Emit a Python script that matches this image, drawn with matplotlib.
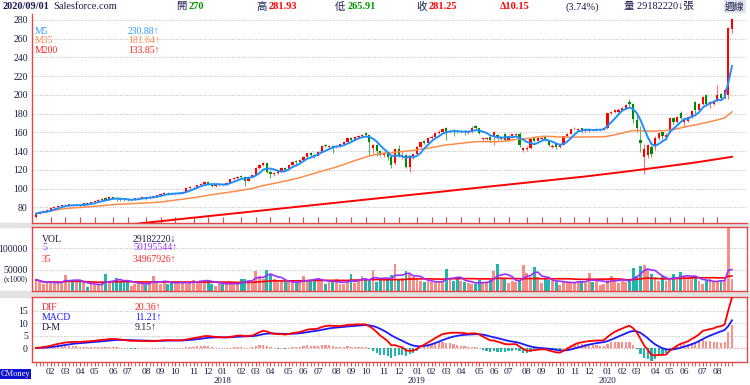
import matplotlib
matplotlib.use("Agg")
import matplotlib.pyplot as plt
from matplotlib.patches import Rectangle
import numpy as np
import pandas as pd

plt.rcParams['font.family'] = ['Liberation Serif', 'Noto Sans CJK TC', 'DejaVu Sans']

# weekly candles, Salesforce.com, week of 2017-01-09 .. week of 2020-08-31
weeks = pd.date_range('2017-01-09', periods=191, freq='W-MON')

opens = [
    69.9, 73.2, 75.3, 76.0, 77.0, 79.6, 80.6, 81.5, 82.0, 82.5,
    82.7, 82.0, 82.5, 81.4, 84.5, 84.0, 85.5, 86.2, 87.8, 89.8,
    88.0, 90.7, 90.2, 88.8, 87.8, 88.3, 87.8, 88.5, 89.6, 90.2,
    90.7, 90.0, 91.0, 91.7, 93.0, 94.5, 95.6, 94.8, 94.0, 94.6,
    95.5, 96.5, 100.2, 101.5, 102.0, 103.5, 104.8, 107.3, 105.0, 102.7,
    103.5, 104.8, 104.5, 106.0, 109.9, 110.9, 113.2, 112.0, 108.4, 112.7,
    114.5, 121.6, 125.1, 126.9, 118.0, 115.0, 116.5, 119.0, 121.6, 120.0,
    125.4, 129.5, 128.0, 130.4, 134.0, 137.6, 135.9, 135.0, 139.3, 146.5,
    144.2, 145.2, 144.0, 144.5, 147.0, 150.0, 154.0, 152.0, 155.3, 155.8,
    158.8, 157.2, 143.0, 146.0, 140.5, 136.0, 138.0, 134.0, 127.0, 142.5,
    134.0, 136.2, 122.5, 134.5, 137.0, 144.0, 151.0, 149.0, 153.6, 155.5,
    159.6, 160.6, 164.6, 160.0, 161.0, 160.8, 160.0, 161.2, 159.2, 160.0,
    167.0, 164.5, 152.5, 152.8, 155.0, 155.0, 157.0, 153.0, 158.0, 152.0,
    155.8, 157.2, 158.5, 141.0, 142.0, 143.5, 153.5, 151.0, 153.0, 154.5,
    151.5, 144.5, 147.0, 144.0, 146.5, 155.8, 158.3, 163.0, 162.0, 164.5,
    161.0, 161.8, 162.6, 162.4, 162.0, 162.6, 164.3, 180.2, 182.0, 181.5,
    184.0, 185.6, 192.0, 190.5, 173.0, 152.0, 134.0, 136.0, 144.0, 145.4,
    154.0, 160.0, 155.0, 160.6, 175.0, 171.5, 181.0, 171.5, 172.0, 176.0,
    192.6, 183.8, 190.2, 199.7, 190.0, 190.5, 193.0, 200.5, 196.5, 200.0,
    270.0,
]
closes = [
    73.2, 75.3, 76.0, 77.0, 79.6, 80.6, 81.5, 82.0, 82.5, 82.7,
    82.0, 82.5, 81.4, 84.5, 84.0, 85.5, 86.2, 87.8, 88.8, 88.0,
    90.7, 90.2, 88.8, 87.8, 87.5, 87.8, 88.5, 89.6, 90.2, 90.7,
    90.0, 91.0, 91.7, 93.0, 94.5, 95.6, 94.8, 94.0, 94.6, 95.5,
    96.5, 100.2, 101.5, 102.0, 103.5, 104.8, 107.3, 105.0, 102.7, 103.5,
    104.8, 104.5, 106.0, 109.9, 110.9, 112.7, 112.0, 108.4, 112.7, 114.5,
    121.6, 125.1, 126.9, 118.0, 115.0, 116.5, 119.0, 121.6, 120.0, 125.4,
    128.6, 128.0, 130.4, 134.0, 137.6, 135.9, 135.0, 139.3, 145.4, 145.5,
    145.2, 144.0, 144.5, 147.0, 150.0, 154.0, 152.0, 155.3, 155.8, 156.7,
    157.2, 150.0, 146.0, 140.5, 136.0, 138.0, 134.0, 125.0, 142.5, 135.5,
    136.2, 123.5, 134.5, 137.0, 144.0, 150.0, 149.0, 153.6, 155.5, 159.6,
    160.6, 164.0, 160.0, 161.0, 160.8, 160.6, 161.2, 160.5, 160.0, 165.0,
    164.5, 159.6, 154.0, 153.8, 151.5, 160.0, 153.6, 154.0, 152.0, 155.8,
    157.7, 158.2, 146.0, 143.0, 143.5, 152.5, 151.0, 153.6, 153.3, 151.5,
    146.0, 145.5, 144.0, 146.5, 155.8, 158.3, 163.0, 164.0, 163.5, 161.0,
    163.0, 162.6, 162.4, 163.5, 162.6, 164.3, 180.2, 182.0, 183.8, 184.0,
    185.6, 189.0, 190.5, 174.0, 164.5, 148.5, 142.0, 146.0, 137.0, 154.0,
    159.0, 156.0, 157.5, 175.0, 171.5, 176.0, 175.0, 173.5, 176.0, 183.0,
    183.8, 190.2, 198.0, 190.0, 192.0, 193.0, 199.8, 196.5, 205.5, 271.1,
    281.25,
]
highs = [
    73.8, 75.8, 76.6, 77.8, 80.1, 81.2, 82.0, 82.8, 83.2, 83.5,
    83.2, 83.0, 83.0, 85.0, 85.2, 86.0, 86.8, 88.4, 89.5, 91.0,
    91.4, 91.5, 91.0, 89.4, 88.6, 88.8, 89.2, 90.2, 91.0, 91.6,
    91.2, 91.6, 92.4, 93.6, 95.0, 96.2, 96.4, 95.3, 95.4, 96.2,
    97.2, 100.8, 102.3, 103.0, 104.2, 105.5, 108.0, 108.2, 105.6, 104.4,
    105.4, 105.6, 106.8, 110.5, 111.8, 113.5, 114.0, 113.0, 113.5, 115.3,
    122.5, 126.0, 128.0, 127.5, 119.5, 117.5, 120.0, 122.5, 122.8, 126.2,
    129.5, 130.4, 131.2, 134.8, 138.4, 138.6, 137.2, 140.0, 146.2, 147.5,
    146.2, 146.0, 145.4, 148.0, 151.0, 155.0, 155.2, 156.2, 156.8, 158.0,
    160.0, 157.8, 147.0, 147.0, 141.5, 140.0, 139.5, 135.0, 143.5, 146.5,
    140.0, 137.0, 135.5, 138.0, 145.0, 151.0, 152.0, 154.5, 156.6, 160.5,
    162.0, 165.0, 165.5, 162.5, 164.0, 162.0, 162.0, 162.0, 161.0, 166.5,
    168.0, 165.0, 155.5, 155.0, 156.0, 161.0, 158.0, 155.0, 159.0, 156.6,
    158.6, 159.5, 160.5, 144.0, 145.0, 154.0, 155.0, 154.5, 155.0, 155.5,
    152.0, 147.0, 147.5, 147.5, 156.5, 159.0, 164.0, 165.5, 164.5, 165.0,
    164.0, 164.0, 164.0, 164.5, 163.8, 165.5, 181.0, 183.0, 185.0, 186.0,
    187.0, 190.0, 195.5, 191.0, 178.0, 167.0, 148.0, 148.0, 146.0, 156.0,
    160.5, 161.5, 159.0, 176.0, 176.5, 177.0, 183.0, 176.0, 177.0, 184.0,
    193.5, 191.0, 199.0, 201.0, 193.0, 194.5, 210.0, 201.5, 207.5, 272.5,
    281.93,
]
lows = [
    69.0, 72.8, 74.8, 75.4, 76.8, 79.0, 80.0, 81.0, 81.3, 81.8,
    81.5, 81.2, 80.6, 81.0, 83.3, 83.6, 84.8, 85.8, 87.2, 87.5,
    87.6, 89.2, 86.2, 86.8, 86.5, 86.8, 87.2, 88.0, 89.0, 89.5,
    87.5, 89.3, 90.4, 91.2, 92.6, 94.0, 93.6, 93.2, 93.5, 94.0,
    95.0, 96.2, 99.6, 100.8, 101.4, 103.0, 104.3, 104.2, 101.5, 102.0,
    103.0, 103.6, 104.0, 105.6, 109.3, 110.3, 111.0, 102.5, 108.0, 112.0,
    114.0, 121.0, 124.3, 116.5, 111.0, 113.0, 115.8, 118.4, 118.5, 119.4,
    124.8, 124.0, 127.4, 129.8, 133.5, 134.8, 133.0, 134.5, 139.0, 144.2,
    143.0, 138.0, 142.8, 144.0, 146.5, 149.4, 150.5, 151.4, 154.0, 154.8,
    155.5, 136.0, 138.0, 135.0, 134.5, 133.5, 130.5, 122.0, 125.5, 133.8,
    132.0, 121.5, 118.0, 131.5, 136.4, 143.4, 147.5, 148.4, 152.8, 155.0,
    158.6, 160.0, 152.0, 158.8, 156.0, 159.0, 159.0, 157.0, 158.0, 159.0,
    163.5, 158.5, 150.5, 151.5, 150.0, 146.0, 152.0, 152.0, 151.0, 151.4,
    155.0, 156.5, 144.5, 139.0, 140.0, 142.5, 149.5, 150.2, 151.5, 150.5,
    145.0, 143.0, 142.5, 143.0, 146.0, 154.8, 157.8, 162.0, 161.0, 159.5,
    160.0, 160.5, 161.0, 161.5, 161.0, 162.0, 163.8, 178.5, 181.0, 180.0,
    182.5, 185.0, 188.5, 170.0, 160.5, 139.0, 116.0, 133.0, 134.0, 141.0,
    152.0, 152.5, 152.0, 159.0, 168.5, 169.5, 174.0, 166.0, 170.5, 175.0,
    178.0, 183.0, 189.5, 188.5, 186.0, 189.0, 192.0, 195.0, 195.5, 196.0,
    265.91,
]
# weekly volume, millions of shares (axis unit is 1000 shares -> 50000 = 50M)
volumes = [
    26, 22, 16, 18, 24, 20, 18, 22, 38, 22,
    25, 20, 22, 20, 10, 16, 15, 16, 18, 40,
    20, 20, 30, 24, 26, 22, 12, 16, 20, 20,
    14, 18, 36, 20, 16, 23, 16, 22, 20, 18,
    20, 16, 22, 26, 20, 26, 26, 24, 16, 12,
    20, 18, 18, 16, 16, 16, 28, 28, 26, 22,
    46, 36, 28, 49, 40, 28, 20, 22, 22, 22,
    20, 18, 22, 34, 26, 26, 26, 30, 24, 16,
    20, 24, 27, 16, 16, 22, 40, 18, 24, 34,
    26, 24, 48, 22, 26, 30, 26, 38, 63, 28,
    30, 46, 40, 32, 28, 24, 20, 24, 22, 20,
    20, 24, 52, 30, 24, 30, 24, 20, 18, 16,
    16, 26, 22, 20, 26, 46, 63, 32, 30, 18,
    24, 22, 24, 61, 41, 32, 55, 32, 18, 28,
    26, 24, 22, 14, 24, 20, 20, 20, 24, 24,
    18, 41, 20, 24, 15, 16, 26, 36, 26, 18,
    24, 22, 28, 53, 36, 59, 61, 49, 40, 32,
    24, 34, 24, 28, 40, 28, 44, 34, 32, 34,
    30, 24, 16, 24, 28, 20, 24, 24, 25, 149,
    29.18,
]
# 200-week average every 10 weeks
m200_weeks = [0, 10, 20, 30, 40, 50, 60, 70, 80, 90, 100, 110, 120, 130, 140, 150, 160, 170, 180, 190]
m200_vals = [51.1, 55.3, 59.4, 63.5, 67.7, 71.8, 75.9, 80.0, 84.1, 88.2,
             92.3, 96.4, 100.6, 104.7, 108.8, 112.9, 117.6, 122.6, 127.8, 133.85]

header = [("2020/09/01", 3, '#1a1a50', 'bold'), ("Salesforce.com", 53, '#1a1a50', 'normal'),
          ("開", 176, '#1a1a50', 'normal'), ("270", 189, '#009900', 'bold'),
          ("高", 256, '#1a1a50', 'normal'), ("281.93", 269, '#ff0000', 'bold'),
          ("低", 335, '#1a1a50', 'normal'), ("265.91", 348, '#009900', 'bold'),
          ("收", 416, '#1a1a50', 'normal'), ("281.25", 429, '#ff0000', 'bold'),
          ("Δ10.15", 500, '#ff0000', 'bold'), ("(3.74%)", 565, '#1a1a50', 'normal'),
          ("量 29182220↓張", 624, '#1a1a50', 'normal')]

closes_s = pd.Series(closes)
m5 = closes_s.rolling(5, min_periods=1).mean()
m35 = closes_s.rolling(35, min_periods=1).mean()
dif = closes_s.ewm(span=12, adjust=False).mean() - closes_s.ewm(span=26, adjust=False).mean()
macd = dif.ewm(span=9, adjust=False).mean()
dm = dif - macd
vol_s = pd.Series(volumes)
v5 = vol_s.rolling(5, min_periods=1).mean()
v35 = vol_s.rolling(35, min_periods=1).mean()

x = np.arange(len(closes))
up = np.array(closes) >= np.array(opens)

W, H = 750, 385
def px(xp, yp):
    return xp / W, 1 - yp / H

def box(top, bottom, left=32, right=747):
    return [left / W, 1 - bottom / H, (right - left) / W, (bottom - top) / H]

fig = plt.figure(figsize=(7.5, 3.85), dpi=100)
fig.patch.set_facecolor('white')
for t, b in [(223, 227.3), (291, 296.7)]:
    fig.add_artist(Rectangle((0, 1 - b / H), 1, (b - t) / H, transform=fig.transFigure,
                             color='#e2e2e2', zorder=0))

ax_p = fig.add_axes(box(14, 223))
ax_v = fig.add_axes(box(227.3, 291))
ax_m = fig.add_axes(box(296.7, 361.7))

red_sp = '#e04848'
txt = '#1a1a40'
xlim = (-1.1, 194.1)
month_idx = [i for i in range(1, len(weeks)) if weeks[i].month != weeks[i - 1].month]

for ax in (ax_p, ax_v, ax_m):
    ax.set_xlim(*xlim)
    ax.set_facecolor('white')
    for s in ax.spines.values():
        s.set_color(red_sp)
        s.set_linewidth(1.0)
    ax.tick_params(axis='y', length=0, labelsize=7, labelcolor=txt, pad=3)

# price pane
ax_p.spines['top'].set_visible(False)
ax_p.spines['right'].set_visible(False)
ax_p.set_ylim(63.25, 286.2)
for lv in range(80, 281, 20):
    ax_p.axhline(lv, color='#bdbdbd', lw=0.7, ls=(0, (1, 1.5)), zorder=0)
ax_p.set_yticks(range(80, 281, 20))
for i in x:
    col = '#ff0000' if up[i] else '#008a00'
    wick = '#ff7070' if up[i] else '#5fb05f'
    ax_p.vlines(i, lows[i], highs[i], color=wick, lw=0.8, zorder=2)
    lo, hi = min(opens[i], closes[i]), max(opens[i], closes[i])
    ax_p.bar(i, max(hi - lo, 0.6), bottom=lo, width=0.62, color=col, zorder=3, linewidth=0)
ax_p.plot(m200_weeks, m200_vals, color='#ff0000', lw=1.4, zorder=4)
ax_p.plot(x, m35, color='#ff8c4a', lw=1.1, zorder=4)
ax_p.plot(x, m5, color='#1e8fff', lw=1.4, zorder=5)
ax_p.set_xticks(month_idx)
ax_p.tick_params(axis='x', direction='in', length=4, color=red_sp, labelbottom=False)

# volume pane
ax_v.set_ylim(0, 149)
for lv in (50, 100):
    ax_v.axhline(lv, color='#bdbdbd', lw=0.7, ls=(0, (1, 1.5)), zorder=0)
ax_v.set_yticks([100, 50])
ax_v.set_yticklabels(['100000', '50000'])
vcol = ['#f78d87' if u else '#22b5ae' for u in up]
ax_v.bar(x, volumes, width=0.78, color=vcol, linewidth=0, zorder=2)
ax_v.plot(x, v35, color='#ff0000', lw=1.2, zorder=3)
ax_v.plot(x, v5, color='#9a30ff', lw=1.2, zorder=4)
ax_v.set_xticks([])

# MACD pane
ax_m.set_ylim(-5.5, 20.6)
for lv in (5, 10, 15):
    ax_m.axhline(lv, color='#bdbdbd', lw=0.7, ls=(0, (1, 1.5)), zorder=0)
ax_m.axhline(0, color='#f08080', lw=0.8, ls=(0, (1, 1.5)), zorder=1)
ax_m.set_yticks([15, 10, 5, 0])
hcol = ['#f5948f' if v >= 0 else '#22b5ae' for v in dm]
ax_m.bar(x, dm, width=0.62, color=hcol, linewidth=0, zorder=2)
ax_m.plot(x, macd, color='#1a1aff', lw=1.3, zorder=3)
ax_m.plot(x, dif, color='#ff0000', lw=1.3, zorder=4)
ax_m.set_xticks(month_idx)
ax_m.set_xticklabels([f"{weeks[i].month:02d}" for i in month_idx])
ax_m.set_xticks(x, minor=True)
ax_m.tick_params(axis='x', which='both', direction='out', length=3, color=red_sp,
                 labelsize=6.8, labelcolor=txt, pad=1.2)
for i in month_idx:
    if weeks[i].month == 1:
        xf = ax_m.transData.transform((i, 0))[0] / fig.bbox.width
        fig.text(xf, 1 - 381.3 / H, str(weeks[i].year), ha='center', va='center',
                 fontsize=6.5, color=txt)

# header
for s, xp, c, w in header:
    fig.text(*px(xp, 6.7), s, fontsize=7.5, color=c, fontweight=w, va='center')
fig.text(*px(725, 6.7), "週線", fontsize=7, color=txt, va='center',
         bbox=dict(boxstyle='square,pad=0.15', fc='#dfe3ee', ec='none'))

# legends
legend_rows = [
    ("M5", "230.88↑", '#3399ff', 31.7, 35, 128),
    ("M35", "181.64↑", '#ff8c4a', 40.9, 35, 128),
    ("M200", "133.85↑", '#ff2020', 50.7, 35, 128),
    ("VOL", "29182220↓", txt, 239.5, 42, 133),
    ("5", "50195544↑", '#9a30ff', 248, 42, 133),
    ("35", "34967926↑", '#ff3030', 259.3, 42, 133),
    ("DIF", "20.36↑", '#ff2020', 307.3, 42, 135),
    ("MACD", "11.21↑", '#1a1aff', 317.3, 42, 135),
    ("D-M", "9.15↑", txt, 327.3, 42, 135),
]
for name, val, c, yp, x1, x2 in legend_rows:
    fig.text(*px(x1, yp), name, fontsize=7, color=c, va='center')
    fig.text(*px(x2, yp), val, fontsize=7, color=c, va='center')

fig.text(*px(28, 279.5), "(x1000)", fontsize=5.6, color=txt, ha='right', va='center')
fig.text(*px(1, 374), "CMoney", fontsize=6, color='white', va='center',
         bbox=dict(boxstyle='square,pad=0.1', fc='#1010d0', ec='none'))

fig.savefig("out.png", dpi=100)
